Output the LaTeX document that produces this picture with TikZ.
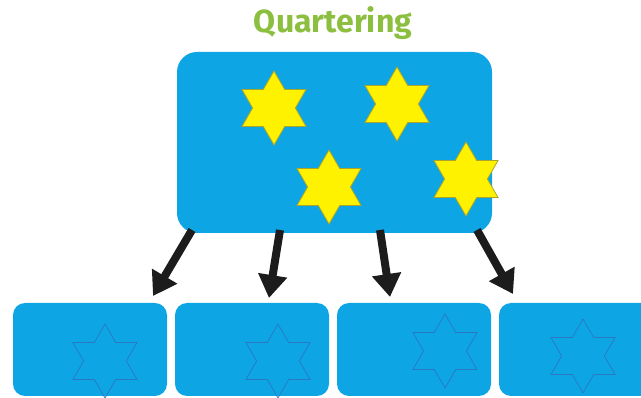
\documentclass[tikz,border=0pt]{standalone}
\usepackage{fontspec}
\setmainfont{Fira Sans}
\usetikzlibrary{arrows.meta}
\definecolor{boxblue}{RGB}{14,165,228}
\definecolor{titlegreen}{RGB}{140,190,63}
\definecolor{staryellow}{RGB}{255,242,0}
\definecolor{staredge}{RGB}{170,165,40}
\definecolor{ghostedge}{RGB}{40,120,195}
\definecolor{arrowblack}{RGB}{28,28,28}
\tikzset{
  bigbox/.style={fill=boxblue, draw=none, rounded corners=20pt, minimum width=315pt, minimum height=181pt, inner sep=0pt},
  smallbox/.style={fill=boxblue, draw=none, rounded corners=12pt, minimum width=154pt, minimum height=93pt, inner sep=0pt},
  arr/.style={draw=arrowblack, line width=8pt, -{Triangle[width=28pt,length=23pt]}},
  hexstar/.pic={
    \path[pic actions] (90:37) -- (120:21.4) -- (150:37) -- (180:21.4) -- (210:37) -- (240:21.4)
      -- (270:37) -- (300:21.4) -- (330:37) -- (0:21.4) -- (30:37) -- (60:21.4) -- cycle;
  },
  yellowstar/.style={fill=staryellow, draw=staredge, line width=0.8pt},
  ghoststar/.style={draw=ghostedge, line width=0.7pt, fill=none}
}
\begin{document}
\begin{tikzpicture}[x=1pt,y=-1pt]
\useasboundingbox (0,0) rectangle (641,398);
\clip (0,0) rectangle (641,398);
\node[text=titlegreen, font=\bfseries\fontsize{32}{32}\selectfont, anchor=base] (title) at (333,33) {Quartering};
\node[bigbox] (main) at (334.5,142.5) {};
\pic[yellowstar] at (274,108) {hexstar};
\pic[yellowstar] at (397,104) {hexstar};
\pic[yellowstar] at (329,187) {hexstar};
\pic[yellowstar] at (466,179) {hexstar};
\node[smallbox] (b1) at (90,349.5) {};
\node[smallbox] (b2) at (252,349.5) {};
\node[smallbox] (b3) at (414,349.5) {};
\node[smallbox] (b4) at (576,349.5) {};
\pic[ghoststar] at (105,361) {hexstar};
\pic[ghoststar] at (278,361) {hexstar};
\pic[ghoststar] at (445,351) {hexstar};
\pic[ghoststar] at (583,356) {hexstar};
\coordinate (s1) at (192,230);
\coordinate (s2) at (280,230);
\coordinate (s3) at (380,230);
\coordinate (s4) at (477,230);
\coordinate (t1) at (153,296);
\coordinate (t2) at (269,298);
\coordinate (t3) at (390,297);
\coordinate (t4) at (513,294);
\draw[arr] (s1) -- (t1);
\draw[arr] (s2) -- (t2);
\draw[arr] (s3) -- (t3);
\draw[arr] (s4) -- (t4);
\end{tikzpicture}
\end{document}
